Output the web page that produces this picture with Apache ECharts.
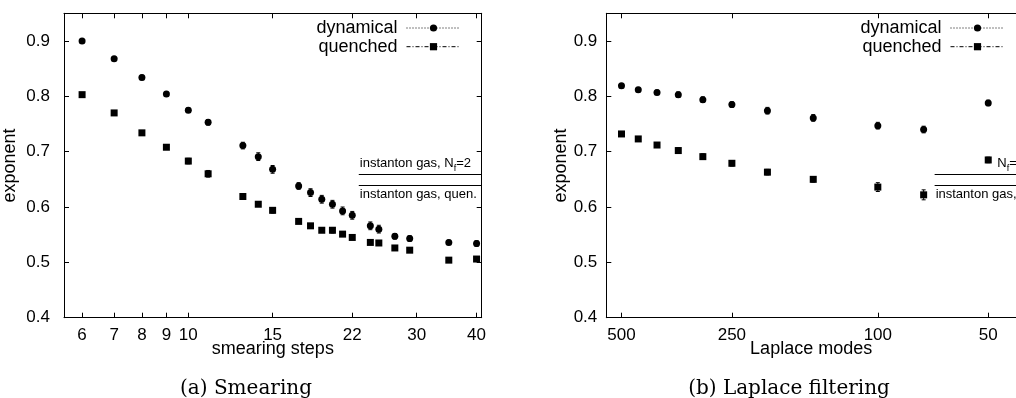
<!DOCTYPE html>
<html><head><meta charset="utf-8">
<script src="https://cdn.jsdelivr.net/npm/echarts@6/dist/echarts.min.js"></script>
<style>html,body{margin:0;padding:0;background:#fff}#c{width:1016px;height:398px}</style>
</head><body><div id="c"></div>
<script>
// ---- data ----
const smearSteps   = [6,7,8,9,10,11,13,14,15,17,18,19,20,21,22,24,25,27,29,35,40];
const smearDyn     = [0.900,0.868,0.834,0.804,0.775,0.753,0.711,0.691,0.668,0.638,0.626,0.614,0.605,0.593,0.585,0.566,0.560,0.547,0.543,0.536,0.534];
const smearDynErr  = [0.002,0.003,0.004,0.004,0.004,0.005,0.006,0.007,0.007,0.006,0.007,0.007,0.007,0.007,0.007,0.007,0.007,0.005,0.005,0.004,0.005];
const smearQuen    = [0.803,0.770,0.734,0.708,0.683,0.660,0.619,0.605,0.594,0.574,0.566,0.558,0.558,0.551,0.545,0.536,0.535,0.526,0.522,0.504,0.506];
const smearQuenErr = [0.002,0.002,0.002,0.004,0.005,0.006,0.005,0.004,0.005,0.003,0.003,0.004,0.005,0.004,0.003,0.003,0.003,0.003,0.003,0.003,0.003];
const laplaceModes = [500,450,400,350,300,250,200,150,100,75,50];
const lapDyn       = [0.819,0.812,0.807,0.803,0.794,0.785,0.774,0.761,0.747,0.740,0.788];
const lapDynErr    = [0.004,0.004,0.004,0.005,0.005,0.005,0.006,0.006,0.006,0.006,0.005];
const lapQuen      = [0.732,0.723,0.712,0.702,0.691,0.679,0.663,0.650,0.636,0.622,0.685];
const lapQuenErr   = [0.004,0.004,0.004,0.005,0.005,0.005,0.005,0.005,0.008,0.009,0.005];
const smearTicks   = [6,7,8,9,10,15,22,30,40];
const laplaceTicks = [500,250,100,50];
const yTicks       = [0.4,0.5,0.6,0.7,0.8,0.9];
const instantonNf2  = 0.66;
const instantonQuen = 0.64;
const smearRange = [5.5, 41];
const lapRange   = [42, 550];
const smearInstStart = 22.7;
const lapInstStart   = 70;

// ---- chart ----
const FONT = 'Liberation Sans';
const chart = echarts.init(document.getElementById('c'), null, {renderer:'canvas'});

function pts(xs, ys){ return xs.map((x,i)=>[x, ys[i]]); }
function errData(xs, ys, es){ return xs.map((x,i)=>[x, ys[i]-es[i], ys[i]+es[i]]); }

function errSeries(name, gi, data){
  return {type:'custom', name, xAxisIndex:gi*2, yAxisIndex:gi*2, data, silent:true, z:3, animation:false,
    encode:{x:0, y:[1,2]},
    renderItem(params, api){
      const x = api.value(0);
      const lo = api.coord([x, api.value(1)]);
      const hi = api.coord([x, api.value(2)]);
      const c = 2;
      const st = {stroke:'#000', lineWidth:1};
      return {type:'group', children:[
        {type:'line', shape:{x1:lo[0],y1:lo[1],x2:hi[0],y2:hi[1]}, style:st},
        {type:'line', shape:{x1:lo[0]-c,y1:lo[1],x2:lo[0]+c,y2:lo[1]}, style:st},
        {type:'line', shape:{x1:hi[0]-c,y1:hi[1],x2:hi[0]+c,y2:hi[1]}, style:st}
      ]};
    }};
}

const subRich = {
  a:{fontSize:13, fontFamily:FONT, color:'#000', lineHeight:18},
  s:{fontSize:9, fontFamily:FONT, color:'#000', lineHeight:18, verticalAlign:'bottom'}
};

function ptSeries(name, symbol, size, gi, data, markLine){
  const s = {type:'line', name, xAxisIndex:gi*2, yAxisIndex:gi*2, data, symbol, symbolSize:size, showSymbol:true,
    itemStyle:{color:'#000'}, lineStyle:{opacity:0, width:0}, z:4, animation:false,
    emphasis:{disabled:true}};
  if (markLine) s.markLine = markLine;
  return s;
}

function instLines(start, end, nf2Label, nf2Pos, nf2Dist){
  return {silent:true, symbol:['none','none'], animation:false,
    lineStyle:{color:'#000', width:1, type:'solid'},
    data:[
      [{coord:[start, instantonNf2],
        label:{show:true, position:nf2Pos, distance:nf2Dist, formatter:nf2Label, rich:subRich}},
       {coord:[end, instantonNf2]}],
      [{coord:[start, instantonQuen],
        label:{show:true, position:'insideStartBottom', distance:1,
               formatter:'{a|instanton gas, quen.}', rich:subRich}},
       {coord:[end, instantonQuen]}]
    ]};
}

function xAxes(gi, ticks, range, inverse){
  const base = {type:'log', logBase:10, min:range[0], max:range[1], inverse, gridIndex:gi,
    axisLine:{show:true, lineStyle:{color:'#000', width:1}},
    splitLine:{show:false}, minorTick:{show:false}};
  return [
    Object.assign({}, base, {position:'bottom',
      axisTick:{show:true, inside:true, length:5, customValues:ticks, lineStyle:{color:'#000'}},
      axisLabel:{show:true, customValues:ticks, margin:9, fontSize:17, fontFamily:FONT, color:'#000'},
      name: gi===0 ? 'smearing steps' : 'Laplace modes', nameLocation:'middle', nameGap:22,
      nameMoveOverlap:false,
      nameTextStyle:{fontSize:18, fontFamily:FONT, color:'#000'}}),
    Object.assign({}, base, {position:'top',
      axisTick:{show:true, inside:true, length:5, customValues:ticks, lineStyle:{color:'#000'}},
      axisLabel:{show:false}})
  ];
}
function yAxes(gi, labelMargin, nameGap, showMirror){
  const base = {type:'value', min:0.4, max:0.95, gridIndex:gi,
    axisLine:{show:true, lineStyle:{color:'#000', width:1}}, splitLine:{show:false}};
  return [
    Object.assign({}, base, {position:'left',
      axisTick:{show:true, inside:true, length:5, customValues:yTicks, lineStyle:{color:'#000'}},
      axisLabel:{show:true, customValues:yTicks, margin:labelMargin, fontSize:17, fontFamily:FONT, color:'#000',
        formatter:v=>v.toFixed(1)},
      name:'exponent', nameLocation:'middle', nameGap, nameRotate:90, nameMoveOverlap:false,
      nameTextStyle:{fontSize:18, fontFamily:FONT, color:'#000'}}),
    Object.assign({}, base, {position:'right', show:showMirror,
      axisTick:{show:true, inside:true, length:5, customValues:yTicks, lineStyle:{color:'#000'}},
      axisLabel:{show:false}})
  ];
}

function legend(right){
  return {orient:'vertical', align:'right', right, top:19, itemWidth:54, itemHeight:9, itemGap:0.7,
    selectedMode:false, padding:0,
    textStyle:{fontSize:18, fontFamily:FONT, color:'#000', lineHeight:18, padding:[0,4,0,0]},
    data:[
      {name:'dynamical', lineStyle:{color:'#000', width:1, opacity:1, type:[1,2]}},
      {name:'quenched', lineStyle:{color:'#000', width:1, opacity:1, type:[4,2,1,2]}}
    ]};
}

const option = {
  backgroundColor:'#fff',
  animation:false,
  grid:[
    {left:64, top:13.3, width:417.7, height:304.4},
    {left:606.3, top:13.3, width:409.7, height:304.4}
  ],
  xAxis:[...xAxes(0, smearTicks, smearRange, false), ...xAxes(1, laplaceTicks, lapRange, true)],
  yAxis:[...yAxes(0, 14, 45, true), ...yAxes(1, 9, 36, false)],
  legend:[legend(555), legend(11)],
  graphic:[
    {type:'text', x:246, y:389, style:{text:'(a) Smearing', font:'20px "DejaVu Serif"', fill:'#000', align:'center', verticalAlign:'middle'}},
    {type:'text', x:789, y:389, style:{text:'(b) Laplace filtering', font:'20px "DejaVu Serif"', fill:'#000', align:'center', verticalAlign:'middle'}}
  ],
  series:[
    errSeries('dynamical err', 0, errData(smearSteps, smearDyn, smearDynErr)),
    errSeries('quenched err', 0, errData(smearSteps, smearQuen, smearQuenErr)),
    ptSeries('dynamical', 'circle', 7, 0, pts(smearSteps, smearDyn),
      instLines(smearInstStart, smearRange[1], '{a|instanton gas, N}{s|f}{a|=2}', 'insideStartTop', 1)),
    ptSeries('quenched', 'rect', 7, 0, pts(smearSteps, smearQuen)),
    errSeries('dynamical err', 1, errData(laplaceModes, lapDyn, lapDynErr)),
    errSeries('quenched err', 1, errData(laplaceModes, lapQuen, lapQuenErr)),
    ptSeries('dynamical', 'circle', 7, 1, pts(laplaceModes, lapDyn),
      instLines(lapInstStart, lapRange[0], '{a|N}{s|f}{a|=2}', 'insideEndTop', [-8, 1])),
    ptSeries('quenched', 'rect', 7, 1, pts(laplaceModes, lapQuen))
  ]
};
chart.setOption(option);
</script>
</body></html>
